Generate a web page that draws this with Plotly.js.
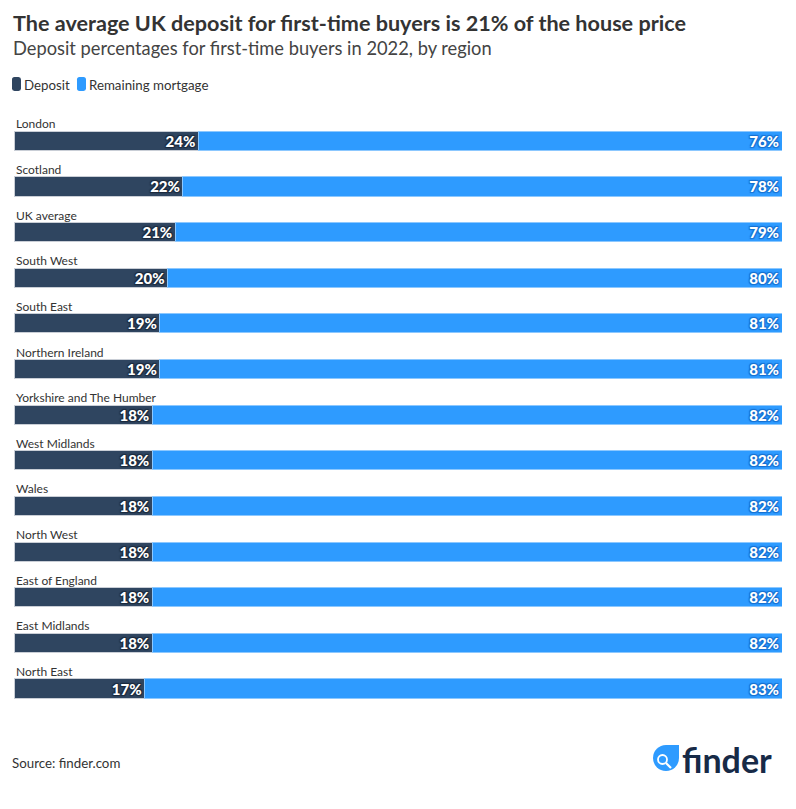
<!DOCTYPE html>
<html>
<head>
<meta charset="utf-8">
<script src="https://cdn.plot.ly/plotly-3.0.1.min.js"></script>
<style>html,body{margin:0;padding:0;background:#fff;}#chart{width:796px;height:809px;}</style>
</head>
<body>
<div id="chart"></div>
<script>
const regions = ["London","Scotland","UK average","South West","South East","Northern Ireland","Yorkshire and The Humber","West Midlands","Wales","North West","East of England","East Midlands","North East"];
const deposit = [24,22,21,20,19,19,18,18,18,18,18,18,17];
const remaining = [76,78,79,80,81,81,82,82,82,82,82,82,83];
const seriesNames = ["Deposit", "Remaining mortgage"];
const seriesColors = ["#2f4560", "#2e9bff"];

const W = 796, H = 809;
const L = 14, R = 14, T = 118, B = 94;
const PW = W - L - R, PH = H - T - B;
function px(x){ return (x - L) / PW; }
function py(y){ return (H - B - y) / PH; }

const FONT = "Lato, 'Source Sans Pro', sans-serif";
const shadowDark = "1px 1px 1px #1b2a3d, -1px -1px 1px #1b2a3d, 1px -1px 1px #1b2a3d, -1px 1px 1px #1b2a3d";
const shadowBlue = "1px 1px 1px #1670d0, -1px -1px 1px #1670d0, 1px -1px 1px #1670d0, -1px 1px 1px #1670d0";

const traces = [
  {
    type: "bar", orientation: "h", name: seriesNames[0],
    y: regions, x: deposit,
    marker: {color: seriesColors[0], line: {color: "#c9ced6", width: 1}},
    text: deposit.map(v => v + "%"), textposition: "inside", insidetextanchor: "end",
    textangle: 0, constraintext: "none",
    textfont: {color: "#ffffff", size: 15, family: FONT, weight: 900, shadow: shadowDark},
    hoverinfo: "skip", width: 0.42
  },
  {
    type: "bar", orientation: "h", name: seriesNames[1],
    y: regions, x: remaining,
    marker: {color: seriesColors[1], line: {color: "#8cc8ff", width: 1}},
    text: remaining.map(v => v + "%"), textposition: "inside", insidetextanchor: "end",
    textangle: 0, constraintext: "none",
    textfont: {color: "#ffffff", size: 15, family: FONT, weight: 900, shadow: shadowBlue},
    hoverinfo: "skip", width: 0.42
  }
];

const annotations = regions.map(r => ({
  xref: "paper", yref: "y", x: 0, y: r, yshift: 17,
  text: r, showarrow: false, xanchor: "left", yanchor: "middle",
  font: {family: FONT, size: 12, color: "#333333"}
}));
annotations.push(
  {xref: "paper", yref: "paper", x: px(11), y: py(23), xanchor: "left", yanchor: "middle", showarrow: false,
   text: "<b>The average UK deposit for first-time buyers is 21% of the house price</b>",
   font: {family: FONT, size: 21.6, color: "#333333"}},
  {xref: "paper", yref: "paper", x: px(11), y: py(48), xanchor: "left", yanchor: "middle", showarrow: false,
   text: "Deposit percentages for first-time buyers in 2022, by region",
   font: {family: FONT, size: 18.3, color: "#444444"}},
  {xref: "paper", yref: "paper", x: px(10), y: py(763), xanchor: "left", yanchor: "middle", showarrow: false,
   text: "Source: finder.com",
   font: {family: FONT, size: 13.3, color: "#333333"}},
  {xref: "paper", yref: "paper", x: px(680), y: py(759), xanchor: "left", yanchor: "middle", showarrow: false,
   text: "<b>finder</b>",
   font: {family: FONT, size: 34, color: "#172a47"}},
  // custom legend labels
  {xref: "paper", yref: "paper", x: px(22), y: py(85), xanchor: "left", yanchor: "middle", showarrow: false,
   text: seriesNames[0], font: {family: FONT, size: 13.3, color: "#333333"}},
  {xref: "paper", yref: "paper", x: px(87), y: py(85), xanchor: "left", yanchor: "middle", showarrow: false,
   text: seriesNames[1], font: {family: FONT, size: 13.3, color: "#333333"}}
);

const shapes = [
  // legend swatches
  {type: "path", xref: "paper", yref: "paper",
   path: roundRect(12, 77, 21, 91, 2.5), fillcolor: seriesColors[0], line: {width: 0}},
  {type: "path", xref: "paper", yref: "paper",
   path: roundRect(77, 77, 86, 91, 2.5), fillcolor: seriesColors[1], line: {width: 0}},
  // finder logo icon
  {type: "circle", xref: "paper", yref: "paper", x0: px(653), x1: px(679), y0: py(771), y1: py(745),
   fillcolor: "#2e9bff", line: {width: 0}},
  {type: "rect", xref: "paper", yref: "paper", x0: px(666), x1: px(679), y0: py(758), y1: py(745),
   fillcolor: "#2e9bff", line: {width: 0}},
  {type: "circle", xref: "paper", yref: "paper", x0: px(658), x1: px(667), y0: py(764), y1: py(755),
   fillcolor: "rgba(0,0,0,0)", line: {width: 1.8, color: "#ffffff"}},
  {type: "line", xref: "paper", yref: "paper", x0: px(666), x1: px(671), y0: py(763), y1: py(768),
   line: {width: 2.2, color: "#ffffff"}}
];

function roundRect(x0, y0, x1, y1, r){
  // pixel rectangle with rounded corners, converted to paper coordinates
  const pts = [];
  const seg = (x, y) => px(x).toFixed(5) + "," + py(y).toFixed(5);
  let p = "M" + seg(x0 + r, y0);
  p += " L" + seg(x1 - r, y0) + " Q" + seg(x1, y0) + " " + seg(x1, y0 + r);
  p += " L" + seg(x1, y1 - r) + " Q" + seg(x1, y1) + " " + seg(x1 - r, y1);
  p += " L" + seg(x0 + r, y1) + " Q" + seg(x0, y1) + " " + seg(x0, y1 - r);
  p += " L" + seg(x0, y0 + r) + " Q" + seg(x0, y0) + " " + seg(x0 + r, y0) + " Z";
  return p;
}

const layout = {
  width: W, height: H,
  margin: {l: L, r: R, t: T, b: B, pad: 0, autoexpand: false},
  paper_bgcolor: "#ffffff", plot_bgcolor: "#ffffff",
  barmode: "stack", bargap: 0.58,
  font: {family: FONT, color: "#333333"},
  xaxis: {range: [0, 100], visible: false, fixedrange: true},
  yaxis: {autorange: "reversed", visible: false, fixedrange: true},
  showlegend: false,
  annotations: annotations,
  shapes: shapes
};

Plotly.newPlot("chart", traces, layout, {displayModeBar: false, staticPlot: true});
</script>
</body>
</html>
